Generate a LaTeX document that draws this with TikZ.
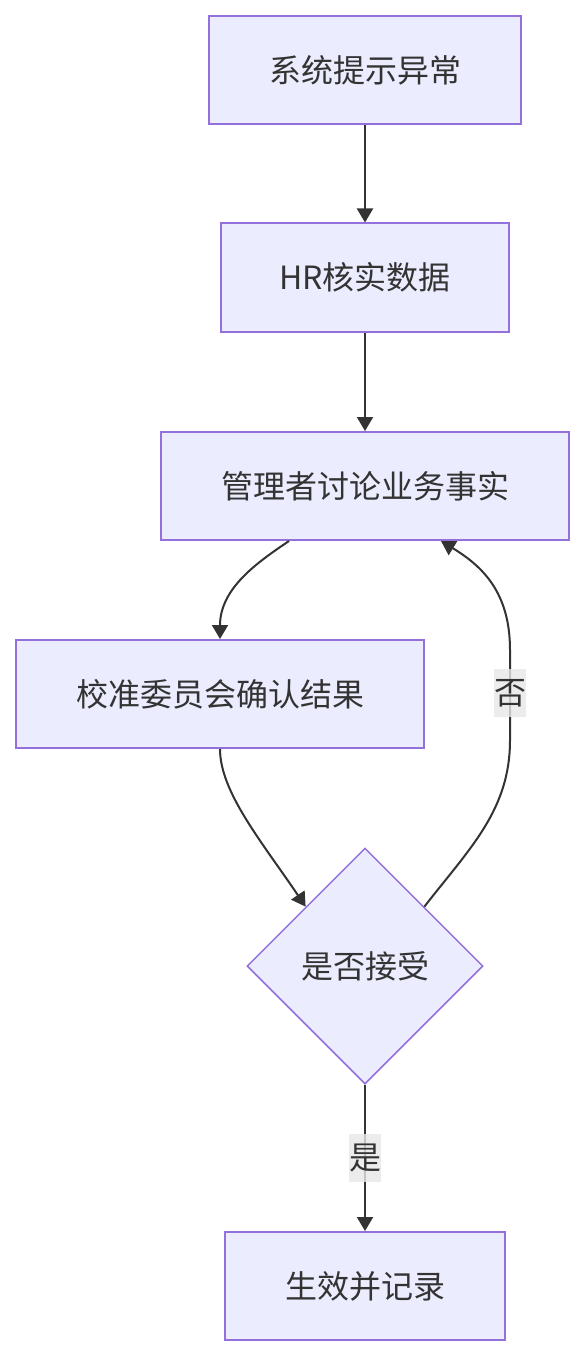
\documentclass[tikz,border=0pt]{standalone}
\usepackage{fontspec}
\setmainfont{Noto Sans CJK SC}
\usetikzlibrary{shapes.geometric,arrows.meta}
\definecolor{nodefill}{HTML}{ECECFF}
\definecolor{nodeborder}{HTML}{9370DB}
\definecolor{txt}{HTML}{333333}
\definecolor{lblbg}{HTML}{E8E8E8}
\begin{document}
\begin{tikzpicture}[x=1pt,y=-1pt,
  box/.style={draw=nodeborder, fill=nodefill, line width=2pt, minimum height=108pt, inner sep=0pt, text=txt, font=\fontsize{32}{38}\selectfont},
  decision/.style={draw=nodeborder, fill=nodefill, line width=1.5pt, diamond, aspect=1, minimum width=236pt, minimum height=236pt, inner sep=0pt, text=txt, font=\fontsize{32}{38}\selectfont},
  edge/.style={draw=txt, line width=2pt, -{Triangle[length=14pt,width=16pt]}},
  elabel/.style={fill=lblbg, fill opacity=0.8, text opacity=1, text=txt, minimum width=32pt, minimum height=48pt, inner sep=0pt, font=\fontsize{32}{38}\selectfont}
]
\useasboundingbox (0,0) rectangle (585,1356);
\fill[white] (0,0) rectangle (585,1356);

\node[box, minimum width=312pt] (n1) at (365,70) {系统提示异常};
\node[box, minimum width=288pt] (n2) at (365,277.5) {HR核实数据};
\node[box, minimum width=408pt] (n3) at (365,486) {管理者讨论业务事实};
\node[box, minimum width=408pt] (n4) at (220,694) {校准委员会确认结果};
\node[decision] (n5) at (365,966) {是否接受};
\node[box, minimum width=280pt] (n6) at (365,1286) {生效并记录};

\draw[edge] (n1.south) -- (n2.north);
\draw[edge] (n2.south) -- (n3.north);
\draw[edge] (n3.south -| 289,0) .. controls (258,562) and (220,588) .. (n4.north);
\draw[edge] (n4.south) .. controls (220,792) and (262,842) .. (n5.north west);
\draw[edge] (n5.north east) .. controls (470,848) and (510,810) .. (510,740) -- (510,650) .. controls (510,592) and (482,566) .. (n3.south -| 441,0);
\draw[edge] (n5.south) -- (n6.north);

\node[elabel] (l1) at (510,693) {否};
\node[elabel] (l2) at (365,1158) {是};
\end{tikzpicture}
\end{document}
